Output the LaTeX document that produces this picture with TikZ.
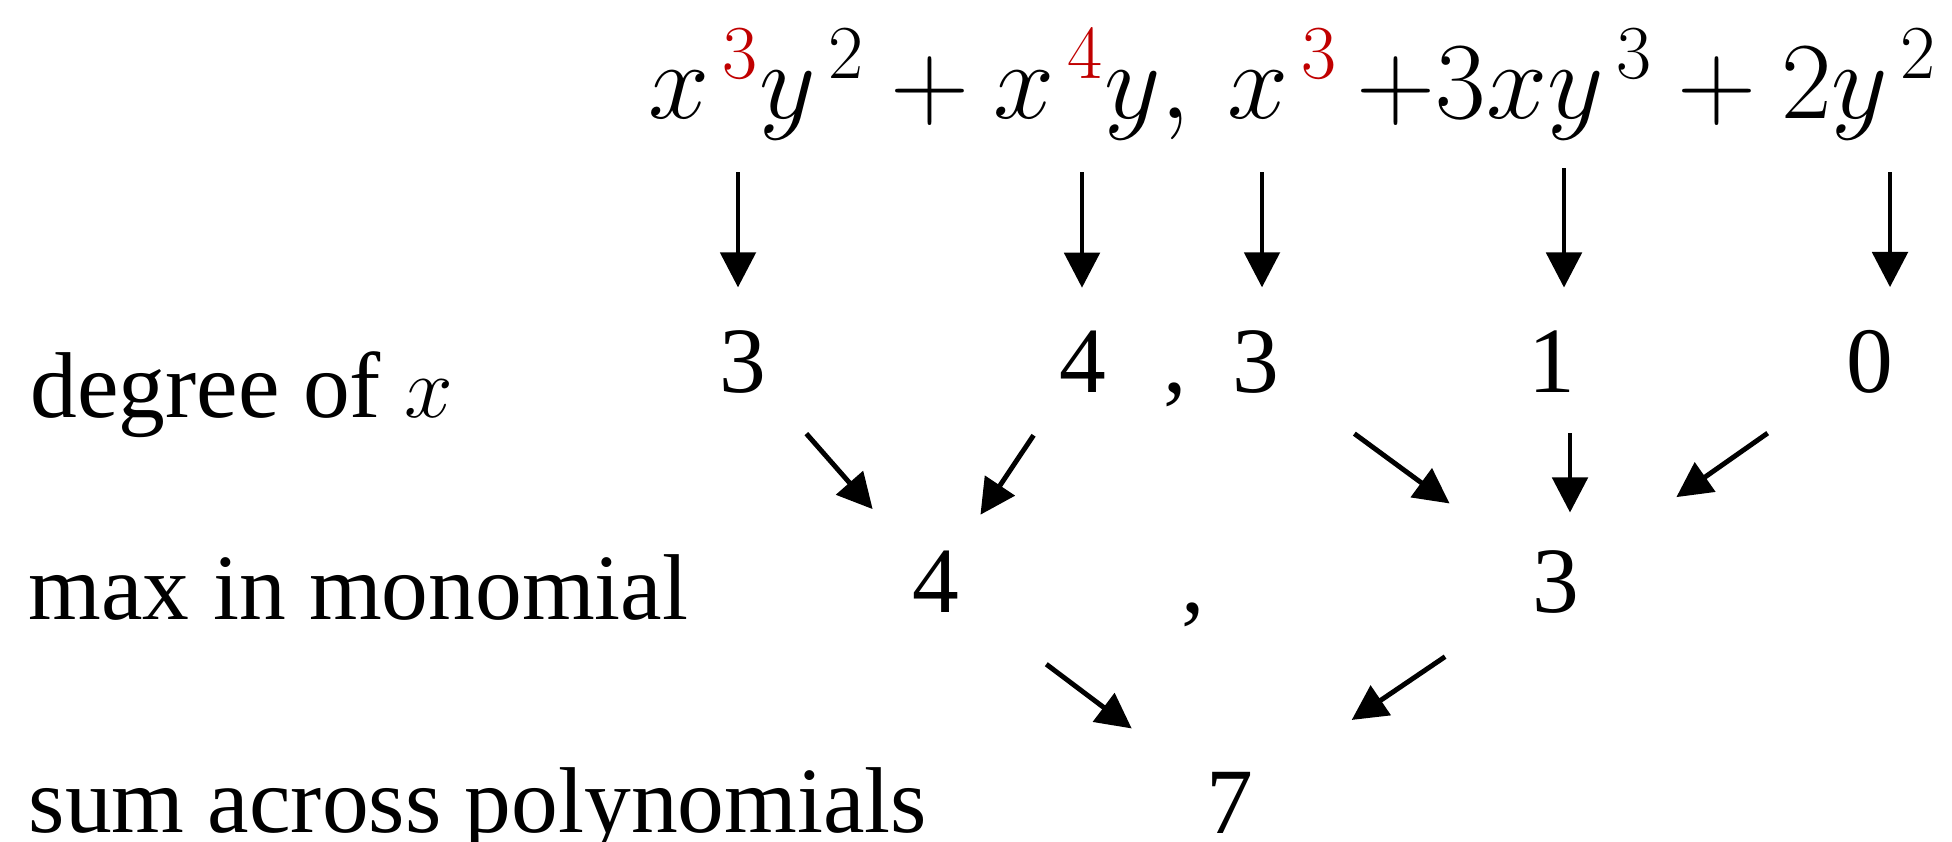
\documentclass[tikz,border=0pt]{standalone}
\usepackage{graphicx}
\usepackage{fontspec}
\setmainfont{Liberation Serif}
\usetikzlibrary{arrows.meta}
\definecolor{expred}{RGB}{192,0,0}

\begin{document}
\begin{tikzpicture}[x=0.1mm, y=-0.1mm, >={Triangle[length=10pt,width=10pt]},
    font=\fontsize{26.6}{32}\selectfont,
    lbl/.style={anchor=base west, inner sep=0pt},
    num/.style={anchor=base, inner sep=0pt},
    arr/.style={->, line width=1.4pt}]
  \useasboundingbox (0,0) rectangle (1952,841);

  % the two polynomials
  \node[lbl] (poly) at (648,118)
    {\resizebox{128.9mm}{!}{$x^{\,\textcolor{expred}{3}}y^{\,2} + x^{\,\textcolor{expred}{4}}y,\,x^{\,\textcolor{expred}{3}}\,{+}3xy^{\,3} + 2y^{\,2}$}};

  % row labels
  \node[lbl] (ldeg) at (30,417) {degree of $x$};
  \node[lbl] (lmax) at (28,619) {max in monomial};
  \node[lbl] (lsum) at (28,832) {sum across polynomials};

  % degree of x per monomial
  \node[num] (d1) at (743,392)  {3};
  \node[num] (d2) at (1083,392) {4};
  \node[num] (dc) at (1175,392) {,};
  \node[num] (d3) at (1256,392) {3};
  \node[num] (d4) at (1552,392) {1};
  \node[num] (d5) at (1870,392) {0};

  % max per polynomial, then the sum
  \node[num] (m1) at (936,612)  {4};
  \node[num] (mc) at (1193,612) {,};
  \node[num] (m2) at (1556,612) {3};
  \node[num] (s1) at (1230,833) {7};

  % arrow starts under the monomials
  \coordinate (t1) at (738,172);
  \coordinate (t2) at (1082,172);
  \coordinate (t3) at (1262,172);
  \coordinate (t4) at (1564,168);
  \coordinate (t5) at (1890,172);

  \foreach \i in {1,...,5}
    \draw[arr, shorten >=4.2mm] (t\i) -- (t\i |- d\i.north);

  % degrees -> max
  \draw[arr, shorten <=9.6mm, shorten >=9.6mm] (d1.center) -- (m1.center);
  \draw[arr, shorten <=8.9mm, shorten >=8.0mm] (d2.center) -- (m1.center);
  \draw[arr, shorten <=12.2mm, shorten >=13.2mm] (d3.center) -- (m2.center);
  \draw[arr, shorten <=7.2mm, shorten >=6.9mm] ([xshift=1.8mm]d4.center) -- ([xshift=1.4mm]m2.center);
  \draw[arr, shorten <=12.5mm, shorten >=14.7mm] (d5.center) -- (m2.center);

  % max -> sum
  \draw[arr, shorten <=13.8mm, shorten >=12.3mm] (m1.center) -- (s1.center);
  \draw[arr, shorten <=13.4mm, shorten >=14.7mm] (m2.center) -- (s1.center);
\end{tikzpicture}
\end{document}
